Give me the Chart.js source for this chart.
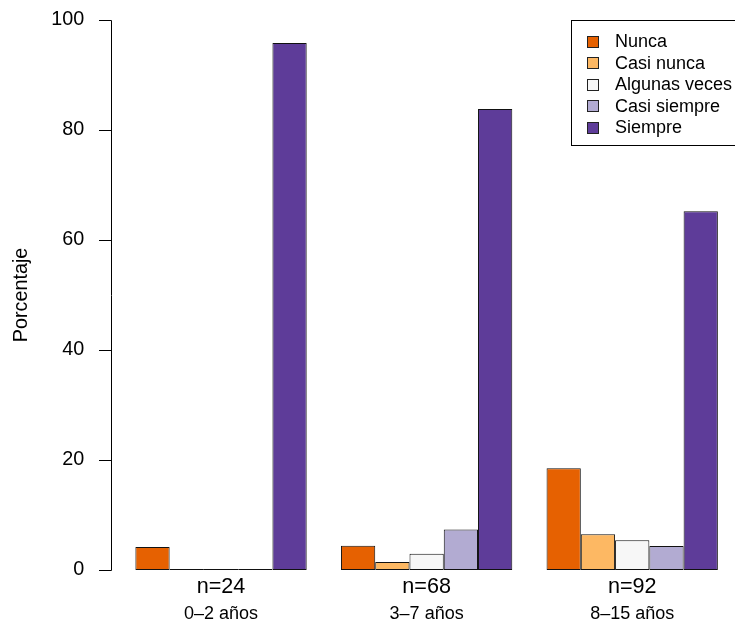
<!DOCTYPE html>
<html>
<head>
<meta charset="utf-8">
<script src="https://cdn.jsdelivr.net/npm/chart.js@4.4.0/dist/chart.umd.min.js"></script>
<style>
  body { margin: 0; background: #fff; }
  #wrap { width: 735px; height: 626px; }
</style>
</head>
<body>
<div id="wrap"><canvas id="chart" width="735" height="626"></canvas></div>
<script>
// data (percent per group)
const groupSizes = ['n=24', 'n=68', 'n=92'];
const groupNames = ['0\u20132 años', '3\u20137 años', '8\u201315 años'];
const answers = ['Nunca', 'Casi nunca', 'Algunas veces', 'Casi siempre', 'Siempre'];
const nunca = [4.17, 4.41, 18.48];
const casiNunca = [0, 1.47, 6.52];
const algunasVeces = [0, 2.94, 5.43];
const casiSiempre = [0, 7.35, 4.35];
const siempre = [95.83, 83.82, 65.22];
const yTicks = [0, 20, 40, 60, 80, 100];
const colors = ['#E66101', '#FDB863', '#F7F7F7', '#B2ABD2', '#5E3C99'];

const font = 'Liberation Sans, Arial, Helvetica, sans-serif';
const series = [nunca, casiNunca, algunasVeces, casiSiempre, siempre];

// R style y axis: detached line with outward ticks
const rAxis = {
  id: 'rAxis',
  afterDraw(chart) {
    const ctx = chart.ctx;
    const y = chart.scales.y;
    const x0 = 111.5;
    ctx.save();
    ctx.strokeStyle = '#000';
    ctx.lineWidth = 1;
    ctx.beginPath();
    ctx.moveTo(x0, Math.round(y.getPixelForValue(yTicks[0])) + 0.5);
    ctx.lineTo(x0, Math.round(y.getPixelForValue(yTicks[yTicks.length - 1])) + 0.5);
    yTicks.forEach(v => {
      const py = Math.round(y.getPixelForValue(v)) + 0.5;
      ctx.moveTo(99, py);
      ctx.lineTo(x0, py);
    });
    ctx.stroke();
    ctx.restore();
  }
};

// legend box in the top right corner
const boxLegend = {
  id: 'boxLegend',
  afterDraw(chart) {
    const ctx = chart.ctx;
    ctx.save();
    ctx.fillStyle = '#fff';
    ctx.fillRect(571, 20, 200, 125);
    ctx.strokeStyle = '#000';
    ctx.lineWidth = 1;
    ctx.strokeRect(571.5, 20.5, 200, 125);
    ctx.font = '18px ' + font;
    ctx.textBaseline = 'middle';
    chart.data.datasets.forEach((ds, i) => {
      const cy = 41.5 + i * 21.5;
      ctx.fillStyle = ds.backgroundColor;
      ctx.fillRect(587, Math.round(cy - 6), 12, 12);
      ctx.strokeStyle = '#222';
      ctx.strokeRect(587.5, Math.round(cy - 6) + 0.5, 11, 11);
      ctx.fillStyle = '#000';
      ctx.fillText(ds.label, 615, cy + 1);
    });
    ctx.restore();
  }
};

new Chart(document.getElementById('chart'), {
  type: 'bar',
  data: {
    labels: groupSizes,
    datasets: answers.map((a, i) => ({
      label: a,
      data: series[i],
      backgroundColor: colors[i],
      borderColor: '#111',
      borderWidth: 1,
      borderSkipped: false,
      minBarLength: 1,
      categoryPercentage: 5 / 6,
      barPercentage: 1
    }))
  },
  options: {
    responsive: false,
    animation: false,
    layout: { padding: { top: 20, right: 0, left: 0, bottom: 0 } },
    plugins: {
      legend: { display: false },
      tooltip: { enabled: false }
    },
    scales: {
      x: {
        position: 'bottom',
        grid: { display: false, drawTicks: false },
        border: { display: false },
        ticks: { color: '#000', font: { family: font, size: 21.6 }, padding: 4 },
        afterFit(s) { s.height = 26; s.paddingLeft = 0; s.paddingRight = 0; }
      },
      x2: {
        type: 'category',
        labels: groupNames,
        position: 'bottom',
        grid: { display: false, drawTicks: false },
        border: { display: false },
        ticks: { color: '#000', font: { family: font, size: 18 }, padding: 7 },
        afterFit(s) { s.height = 30; s.paddingLeft = 0; s.paddingRight = 0; }
      },
      y: {
        min: 0,
        max: 100,
        afterBuildTicks(s) { s.ticks = yTicks.map(v => ({ value: v })); },
        grid: { display: false, drawTicks: false },
        border: { display: false },
        ticks: { color: '#000', font: { family: font, size: 19.8 }, padding: 34 },
        title: {
          display: true,
          text: 'Porcentaje',
          color: '#000',
          font: { family: font, size: 19.8 },
          padding: { top: 10, bottom: 0 }
        },
        afterFit(s) { s.width = 118.25; s.paddingTop = 0; s.paddingBottom = 0; }
      }
    }
  },
  plugins: [rAxis, boxLegend]
});
</script>
</body>
</html>
